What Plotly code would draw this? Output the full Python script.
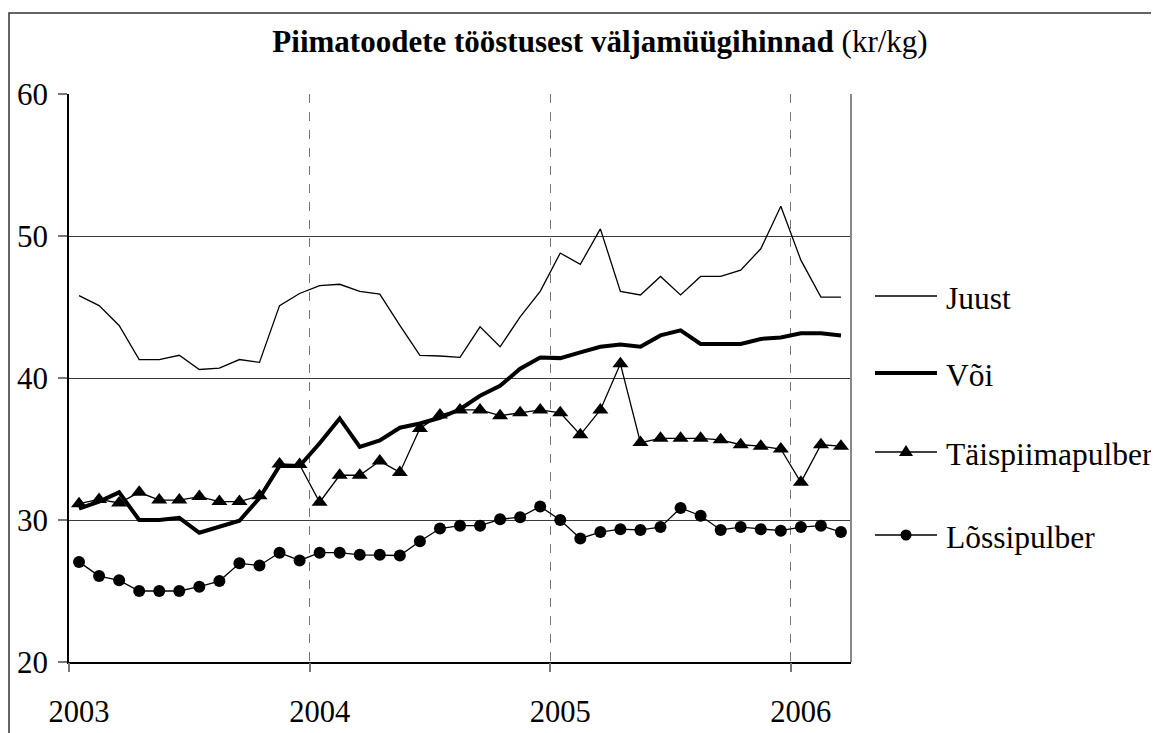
import plotly.graph_objects as go

# ---------------- data ----------------
years = [2003, 2004, 2005, 2006]
months_per_year = [12, 12, 12, 3]
categories = [f"{y}-{m:02d}" for y, n in zip(years, months_per_year) for m in range(1, n + 1)]
year_ticks = [f"{y}-01" for y in years]
year_labels = [str(y) for y in years]

juust = [45.8, 45.1, 43.7, 41.3, 41.3, 41.6, 40.6, 40.7, 41.3, 41.1, 45.1, 45.95,
         46.5, 46.6, 46.1, 45.9, 43.7, 41.6, 41.55, 41.45, 43.6, 42.2, 44.3, 46.1,
         48.8, 48.0, 50.5, 46.1, 45.85, 47.15, 45.85, 47.15, 47.15, 47.6, 49.1, 52.1,
         48.3, 45.7, 45.7]
voi = [30.8, 31.3, 31.95, 30.0, 30.0, 30.15, 29.1, 29.5, 29.95, 31.55, 33.8, 33.8,
       35.4, 37.15, 35.15, 35.6, 36.5, 36.8, 37.2, 37.8, 38.75, 39.45, 40.65, 41.45,
       41.4, 41.8, 42.2, 42.35, 42.2, 43.0, 43.35, 42.4, 42.4, 42.4, 42.75, 42.85,
       43.15, 43.15, 43.0]
taispiim = [31.15, 31.45, 31.2, 31.95, 31.4, 31.4, 31.65, 31.3, 31.3, 31.7, 33.95, 33.9,
            31.25, 33.15, 33.15, 34.15, 33.35, 36.45, 37.4, 37.75, 37.75, 37.35, 37.55, 37.75,
            37.55, 36.0, 37.75, 41.0, 35.45, 35.75, 35.75, 35.75, 35.65, 35.3, 35.2, 35.0,
            32.65, 35.3, 35.2]
lossi = [27.05, 26.05, 25.75, 25.0, 25.0, 25.0, 25.3, 25.7, 26.95, 26.8, 27.7, 27.15,
         27.7, 27.7, 27.55, 27.55, 27.5, 28.5, 29.4, 29.6, 29.6, 30.05, 30.2, 30.95,
         30.0, 28.7, 29.15, 29.35, 29.3, 29.5, 30.85, 30.3, 29.3, 29.5, 29.35, 29.25,
         29.5, 29.6, 29.15]

series_names = ["Juust", "Või", "Täispiimapulber", "Lõssipulber"]
y_ticks = [20, 30, 40, 50, 60]

FONT = "Liberation Serif"

# ---------------- layout geometry ----------------
# the page adds an 8 px body margin, so the figure is laid out in page pixels minus 8
OFF = 8
WIN_W, WIN_H = 1159, 733
W, H = WIN_W - OFF, WIN_H - OFF
L, R = 69 - OFF, 851 - OFF      # plot area edges (figure px)
T, B = 94 - OFF, 662 - OFF
pw, ph = R - L, B - T


def px_x(page_x):
    return (page_x - OFF - L) / pw


def px_y(page_y):
    return (B - (page_y - OFF)) / ph


fig = go.Figure()

# data traces
fig.add_trace(go.Scatter(x=categories, y=juust, mode="lines", name=series_names[0],
                         line=dict(color="black", width=1.3), showlegend=False))
fig.add_trace(go.Scatter(x=categories, y=voi, mode="lines", name=series_names[1],
                         line=dict(color="black", width=4), showlegend=False))
fig.add_trace(go.Scatter(x=categories, y=taispiim, mode="lines+markers", name=series_names[2],
                         line=dict(color="black", width=1.3),
                         marker=dict(symbol="triangle-up", size=14, color="black"),
                         showlegend=False))
fig.add_trace(go.Scatter(x=categories, y=lossi, mode="lines+markers", name=series_names[3],
                         line=dict(color="black", width=1.3),
                         marker=dict(symbol="circle", size=12, color="black"),
                         showlegend=False))
# empty trace that binds the boundary axis (year ticks / dashed grid)
fig.add_trace(go.Scatter(x=[None], y=[None], xaxis="x2", yaxis="y",
                         showlegend=False, hoverinfo="skip"))

# year boundaries (ticks sit between December and January)
boundary_vals = [categories.index(t) - 0.5 for t in year_ticks]

# ---------------- legend (drawn beside the plot) ----------------
legend_y = [296, 373, 452, 535]
leg_x0, leg_x1, leg_text_x = 875, 937, 944
leg_mid = (leg_x0 + leg_x1) / 2
line_widths = [1.3, 4, 1.3, 1.3]
shapes = [
    dict(type="rect", xref="paper", yref="paper",
         x0=px_x(9), x1=px_x(1175), y0=px_y(13), y1=px_y(760),
         line=dict(color="#333333", width=1.5), fillcolor="rgba(0,0,0,0)", layer="below"),
    dict(type="line", xref="paper", yref="paper",
         x0=1, x1=1, y0=0, y1=1, line=dict(color="#888888", width=2)),
]
annotations = []
for name, ly, lw in zip(series_names, legend_y, line_widths):
    shapes.append(dict(type="line", xref="paper", yref="paper",
                       x0=px_x(leg_x0), x1=px_x(leg_x1), y0=px_y(ly), y1=px_y(ly),
                       line=dict(color="black", width=lw)))
    annotations.append(dict(text=name, xref="paper", yref="paper",
                            x=px_x(leg_text_x), y=px_y(ly + 2), xanchor="left", yanchor="middle",
                            showarrow=False, font=dict(family=FONT, size=31.5, color="black")))
# legend symbols
shapes.append(dict(type="path", xref="paper", yref="paper",
                   xsizemode="pixel", ysizemode="pixel",
                   xanchor=px_x(leg_mid), yanchor=px_y(legend_y[2]),
                   path="M-7,-4 L7,-4 L0,7 Z", fillcolor="black", line=dict(width=0)))
shapes.append(dict(type="circle", xref="paper", yref="paper",
                   xsizemode="pixel", ysizemode="pixel",
                   xanchor=px_x(leg_mid), yanchor=px_y(legend_y[3]),
                   x0=-5.5, x1=5.5, y0=-5.5, y1=5.5, fillcolor="black", line=dict(width=0)))

fig.update_layout(
    width=W, height=H,
    margin=dict(l=L, r=W - R, t=T, b=H - B, autoexpand=False),
    paper_bgcolor="white", plot_bgcolor="white",
    font=dict(family=FONT, color="black"),
    showlegend=False,
    title=dict(text="<b>Piimatoodete tööstusest väljamüügihinnad</b> (kr/kg)",
               font=dict(family=FONT, size=31, color="black"),
               x=(600 - OFF) / W, xanchor="center", xref="container",
               y=1 - (41 - OFF) / H, yanchor="middle", yref="container"),
    shapes=shapes,
    annotations=annotations,
    xaxis2=dict(
        overlaying="x", anchor="y", side="bottom", type="linear",
        range=[-0.5, len(categories) - 0.5],
        tickmode="array", tickvals=boundary_vals, showticklabels=False,
        ticks="outside", ticklen=9, tickcolor="#777777", tickwidth=1.5,
        showgrid=True, gridcolor="#777777", gridwidth=1.2, griddash="dash",
        showline=False, zeroline=False, automargin=False,
    ),
)

fig.layout.xaxis.update(
    type="category", categoryorder="array", categoryarray=categories,
    range=[-0.5, len(categories) - 0.5],
    tickmode="array", tickvals=year_ticks, ticktext=year_labels, tickangle=0,
    ticks="", showgrid=False,
    tickfont=dict(family=FONT, size=30.5, color="black"),
    ticklabelstandoff=22,
    showline=True, linecolor="black", linewidth=1.5,
    zeroline=False, automargin=False,
)
fig.update_yaxes(
    range=[20, 60], tickmode="array", tickvals=y_ticks,
    ticks="outside", ticklen=9, tickcolor="#777777", tickwidth=1.5,
    tickfont=dict(family=FONT, size=31, color="black"),
    ticklabelstandoff=4,
    showgrid=True, gridcolor="#3a3a3a", gridwidth=1,
    showline=True, linecolor="black", linewidth=1.5,
    zeroline=False, automargin=False,
)

fig.write_html("out.html")
